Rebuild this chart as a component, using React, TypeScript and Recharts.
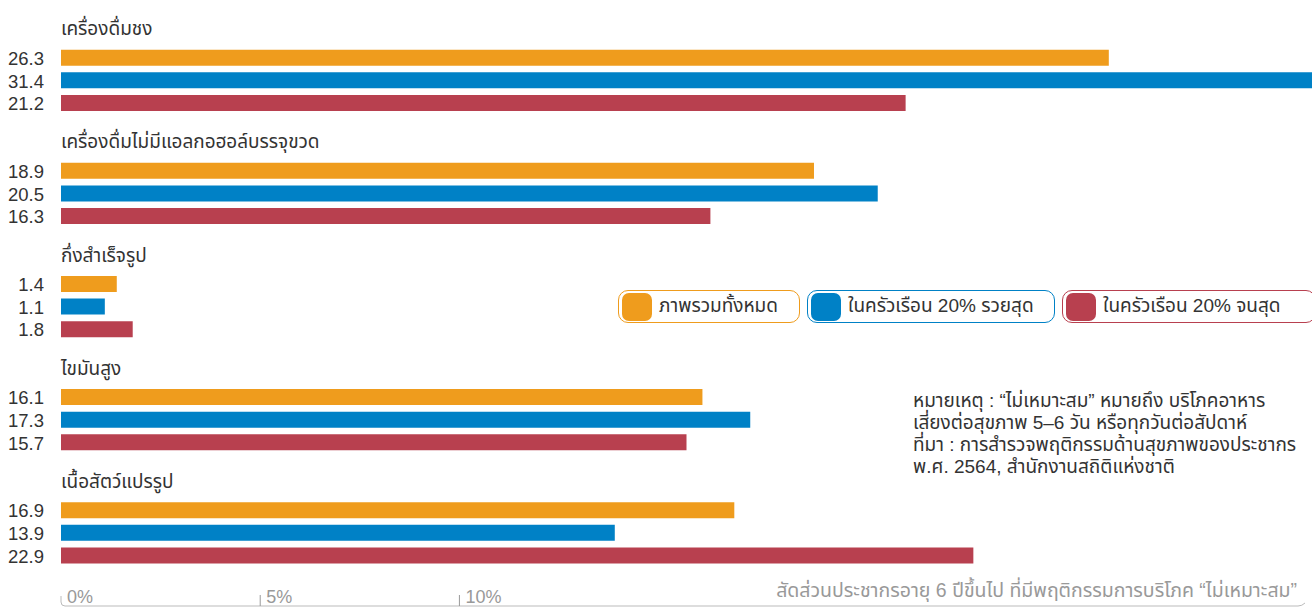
import { BarChart, Bar, XAxis, YAxis } from 'recharts';

const categories = [
  'เครื่องดื่มชง',
  'เครื่องดื่มไม่มีแอลกอฮอล์บรรจุขวด',
  'กึ่งสำเร็จรูป',
  'ไขมันสูง',
  'เนื้อสัตว์แปรรูป',
];
const seriesNames = ['ภาพรวมทั้งหมด', 'ในครัวเรือน 20% รวยสุด', 'ในครัวเรือน 20% จนสุด'];
const overall = [26.3, 18.9, 1.4, 16.1, 16.9];
const richest = [31.4, 20.5, 1.1, 17.3, 13.9];
const poorest = [21.2, 16.3, 1.8, 15.7, 22.9];
const xTicks = [0, 5, 10];
const xTickLabels = ['0%', '5%', '10%'];
const axisCaption = 'สัดส่วนประชากรอายุ 6 ปีขึ้นไป ที่มีพฤติกรรมการบริโภค “ไม่เหมาะสม”';
const noteLines = [
  'หมายเหตุ : “ไม่เหมาะสม” หมายถึง บริโภคอาหาร',
  'เสี่ยงต่อสุขภาพ 5–6 วัน หรือทุกวันต่อสัปดาห์',
  'ที่มา : การสำรวจพฤติกรรมด้านสุขภาพของประชากร',
  'พ.ศ. 2564, สำนักงานสถิติแห่งชาติ',
];

const keys = ['overall', 'richest', 'poorest'];
const colors = ['#EF9C1D', '#0081C6', '#B8404F'];
const font = '"Liberation Sans", "Noto Sans Thai", "Noto Sans", sans-serif';
const textColor = '#333';

// one row per bar, plus a header row per group and a spacer between groups
type Row = { key: string; label?: string; value?: number; overall?: number; richest?: number; poorest?: number };
const rows: Row[] = [];
categories.forEach((c, i) => {
  if (i > 0) rows.push({ key: `gap${i}` });
  rows.push({ key: `head${i}`, label: c });
  [overall, richest, poorest].forEach((arr, s) => {
    rows.push({ key: `${keys[s]}${i}`, value: arr[i], [keys[s]]: arr[i] });
  });
});
const rowByKey = Object.fromEntries(rows.map((r) => [r.key, r]));

const RowTick = (props: any) => {
  const { y, payload } = props;
  const row = rowByKey[payload.value];
  if (!row) return null;
  if (row.label) {
    return (
      <text x={61} y={y} fill={textColor} fontSize={19} fontFamily={font}>
        {row.label}
      </text>
    );
  }
  if (row.value === undefined) return null;
  return (
    <text x={44} y={y + 7} textAnchor="end" fill={textColor} fontSize={18.5} fontFamily={font}>
      {row.value.toFixed(1)}
    </text>
  );
};

const AxisTick = (props: any) => {
  const { x, payload, index } = props;
  return (
    <g>
      {index === 0 ? (
        <path d="M61,596 L61,602 Q61,606 65,606 L1298,606 Q1302,606 1305,603" fill="none" stroke="#bbb" strokeWidth={1} />
      ) : (
        <line x1={x} x2={x} y1={595} y2={606} stroke="#999" strokeWidth={1} />
      )}
      <text x={x + 6} y={603} fill="#999" fontSize={18} fontFamily={font}>
        {xTickLabels[xTicks.indexOf(payload.value)]}
      </text>
    </g>
  );
};

const Caption = () => (
  <text x={1297} y={597} textAnchor="end" fill="#999" fontSize={19.5} fontFamily={font}>
    {axisCaption}
  </text>
);

const legendBoxes = [
  { left: 618, width: 182 },
  { left: 807, width: 248 },
  { left: 1062, width: 254 },
];

export default function App() {
  return (
    <div style={{ position: 'absolute', left: 0, top: 0, width: 1312, height: 609, background: '#fff', fontFamily: font, overflow: 'hidden' }}>
      <BarChart width={1312} height={609} data={rows} layout="vertical" margin={{ top: 24, right: 0, bottom: 0, left: 0 }}>
        <XAxis
          type="number"
          domain={[0, 31.4]}
          ticks={xTicks}
          interval={0}
          height={42}
          axisLine={false}
          tickLine={false}
          tick={AxisTick}
          label={Caption}
        />
        <YAxis type="category" dataKey="key" width={61} axisLine={false} tickLine={false} interval={0} tick={RowTick} />
        {keys.map((k, s) => (
          <Bar key={k} dataKey={k} stackId="s" fill={colors[s]} barSize={16} isAnimationActive={false} />
        ))}
      </BarChart>
      {seriesNames.map((name, s) => (
        <div
          key={name}
          style={{
            position: 'absolute',
            left: legendBoxes[s].left,
            top: 290,
            width: legendBoxes[s].width,
            height: 33,
            boxSizing: 'border-box',
            border: `1.5px solid ${colors[s]}`,
            borderRadius: 10,
            display: 'flex',
            alignItems: 'center',
            padding: '0 3px',
          }}
        >
          <div style={{ width: 30, height: 28, borderRadius: 7, background: colors[s], flex: 'none' }} />
          <span style={{ marginLeft: 7, fontSize: 19, color: textColor, whiteSpace: 'nowrap' }}>{name}</span>
        </div>
      ))}
      <div style={{ position: 'absolute', left: 913, top: 390, fontSize: 19, lineHeight: '22px', color: textColor, whiteSpace: 'nowrap' }}>
        {noteLines.map((l) => (
          <div key={l}>{l}</div>
        ))}
      </div>
    </div>
  );
}
